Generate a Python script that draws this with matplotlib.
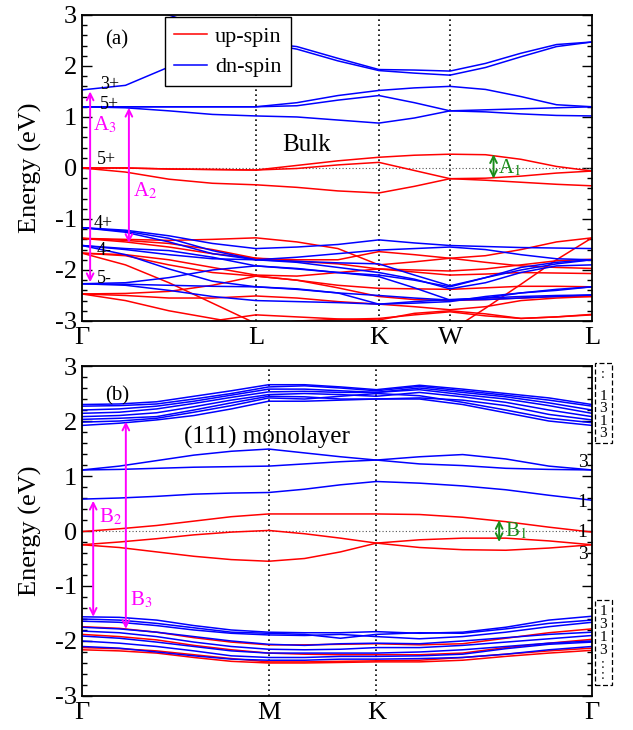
import numpy as np
import matplotlib
matplotlib.use("Agg")
import matplotlib.pyplot as plt
from matplotlib.ticker import MultipleLocator, FormatStrFormatter
from matplotlib.patches import Rectangle

plt.rcParams['font.family'] = ['Liberation Serif', 'DejaVu Serif']
plt.rcParams['mathtext.fontset'] = 'stix'
plt.rcParams['axes.unicode_minus'] = False

UP = '#ff0000'
DN = '#0000ff'
MAG = '#ff00ff'
GRN = '#1a8c1a'

# ---------------- bulk: Gamma-L-K-W-L ----------------
bulk_labels = ['Γ', 'L', 'K', 'W', 'L']
bulk_seglen = [0.866, 0.612, 0.354, 0.707]
bulk_steps = [[0, .25, .5, .75, 1], [1/3, 2/3, 1], [.5, 1], [.25, .5, .75, 1]]

bulk_up = [
    [0.00, 0.00, -0.02, -0.03, -0.04, 0.05, 0.14, 0.21, 0.25, 0.27, 0.26, 0.17, 0.03, -0.06],
    [0.00, 0.00, -0.02, -0.03, -0.04, -0.01, 0.06, 0.11, -0.05, -0.21, -0.20, -0.16, -0.10, -0.06],
    [0.00, -0.08, -0.22, -0.30, -0.33, -0.38, -0.45, -0.49, -0.36, -0.21, -0.24, -0.28, -0.32, -0.35],
    [-1.38, -1.40, -1.42, -1.40, -1.37, -1.45, -1.58, -1.90, -1.84, -1.77, -1.72, -1.60, -1.45, -1.37],
    [-1.38, -1.42, -1.48, -1.60, -1.77, -1.80, -1.80, -1.64, -1.70, -1.77, -1.85, -1.92, -1.95, -1.97],
    [-1.38, -1.45, -1.55, -1.68, -1.77, -1.83, -1.88, -1.98, -2.00, -2.02, -1.98, -1.90, -1.82, -1.79],
    [-1.67, -1.90, -2.25, -2.65, -3.05, -3.30, -3.30, -3.30, -3.25, -3.20, -2.75, -2.28, -1.80, -1.37],
    [-1.67, -1.70, -1.80, -1.95, -2.10, -2.12, -2.05, -1.98, -2.04, -2.10, -2.08, -2.05, -2.06, -2.07],
    [-1.67, -1.72, -1.90, -2.05, -2.12, -2.20, -2.30, -2.36, -2.37, -2.38, -2.35, -2.32, -2.32, -2.33],
    [-2.47, -2.46, -2.42, -2.30, -2.12, -2.20, -2.35, -2.52, -2.58, -2.60, -2.58, -2.55, -2.52, -2.52],
    [-2.47, -2.50, -2.55, -2.55, -2.51, -2.55, -2.62, -2.67, -2.72, -2.78, -2.72, -2.60, -2.55, -2.52],
    [-2.47, -2.60, -2.80, -2.95, -3.10, -3.00, -2.97, -2.95, -2.88, -2.82, -2.90, -2.95, -2.92, -2.88],
    [-3.50, -3.40, -3.20, -3.00, -2.88, -2.92, -2.96, -2.98, -2.85, -2.80, -2.86, -2.95, -2.92, -2.87],
]

bulk_dn = [
    [1.53, 1.62, 1.98, 2.30, 2.47, 2.33, 2.10, 1.91, 1.86, 1.82, 1.97, 2.18, 2.38, 2.47],
    [3.60, 3.30, 3.00, 2.70, 2.47, 2.38, 2.15, 1.93, 1.92, 1.90, 2.05, 2.25, 2.42, 2.47],
    [1.20, 1.18, 1.12, 1.05, 1.02, 1.00, 0.94, 0.88, 0.98, 1.12, 1.10, 1.06, 1.03, 1.02],
    [1.20, 1.20, 1.20, 1.20, 1.20, 1.22, 1.33, 1.42, 1.28, 1.12, 1.14, 1.16, 1.18, 1.20],
    [1.20, 1.20, 1.20, 1.20, 1.20, 1.28, 1.42, 1.52, 1.57, 1.60, 1.54, 1.40, 1.24, 1.20],
    [-1.17, -1.22, -1.33, -1.48, -1.58, -1.55, -1.50, -1.41, -1.47, -1.52, -1.54, -1.56, -1.57, -1.58],
    [-1.17, -1.24, -1.38, -1.62, -1.80, -1.75, -1.68, -1.61, -1.58, -1.55, -1.60, -1.70, -1.78, -1.80],
    [-1.17, -1.26, -1.45, -1.68, -1.80, -1.83, -1.86, -1.88, -2.10, -2.31, -2.15, -2.00, -1.88, -1.80],
    [-1.52, -1.60, -1.70, -1.78, -1.80, -1.85, -1.95, -2.05, -2.18, -2.37, -2.25, -2.05, -1.92, -1.90],
    [-1.52, -1.70, -1.98, -2.22, -2.33, -2.37, -2.45, -2.67, -2.65, -2.62, -2.52, -2.45, -2.40, -2.33],
    [-1.52, -1.58, -1.62, -1.75, -1.92, -1.98, -2.05, -2.13, -2.35, -2.59, -2.55, -2.45, -2.38, -2.33],
    [-2.27, -2.25, -2.15, -2.00, -1.92, -1.97, -2.05, -2.10, -2.20, -2.33, -2.15, -1.95, -1.85, -1.80],
    [-2.27, -2.28, -2.30, -2.32, -2.33, -2.38, -2.45, -2.50, -2.55, -2.59, -2.58, -2.55, -2.52, -2.49],
    [-2.27, -2.30, -2.40, -2.52, -2.60, -2.62, -2.64, -2.67, -2.62, -2.58, -2.55, -2.52, -2.50, -2.49],
]

# irreps at Gamma for the bulk panel: (text, k fraction, energy)
bulk_irreps = [('3+', 0.035, 1.63), ('5+', 0.035, 1.24), ('5+', 0.029, 0.16),
               ('4+', 0.022, -1.08), ('4-', 0.029, -1.61), ('5-', 0.029, -2.16)]

# ---------------- (111) monolayer: Gamma-M-K-Gamma ----------------
mono_labels = ['Γ', 'M', 'K', 'Γ']
mono_seglen = [0.866, 0.5, 1.0]
mono_steps = [[0, .2, .4, .6, .8, 1], [1/3, 2/3, 1], [.2, .4, .6, .8, 1]]

mono_up = [
    [-0.01, 0.04, 0.10, 0.18, 0.26, 0.31, 0.31, 0.31, 0.31, 0.30, 0.25, 0.17, 0.07, -0.02],
    [-0.25, -0.20, -0.14, -0.07, -0.02, 0.01, -0.05, -0.13, -0.22, -0.30, -0.34, -0.35, -0.31, -0.25],
    [-0.25, -0.30, -0.38, -0.46, -0.52, -0.55, -0.50, -0.38, -0.22, -0.16, -0.13, -0.13, -0.18, -0.25],
    [-1.74, -1.77, -1.84, -1.94, -2.02, -2.07, -2.07, -2.06, -2.05, -2.07, -2.05, -1.95, -1.85, -1.78],
    [-1.88, -1.92, -1.98, -2.08, -2.16, -2.22, -2.24, -2.25, -2.25, -2.25, -2.22, -2.12, -2.04, -1.97],
    [-2.12, -2.14, -2.18, -2.25, -2.32, -2.38, -2.38, -2.37, -2.36, -2.35, -2.30, -2.24, -2.18, -2.13],
    [-2.16, -2.18, -2.22, -2.30, -2.37, -2.40, -2.40, -2.39, -2.38, -2.38, -2.35, -2.28, -2.22, -2.17],
]

mono_dn = [
    [2.30, 2.31, 2.35, 2.45, 2.55, 2.66, 2.66, 2.62, 2.57, 2.65, 2.58, 2.50, 2.42, 2.30],
    [2.27, 2.28, 2.31, 2.40, 2.50, 2.62, 2.64, 2.60, 2.55, 2.63, 2.55, 2.47, 2.38, 2.27],
    [2.20, 2.22, 2.27, 2.36, 2.47, 2.58, 2.58, 2.55, 2.52, 2.60, 2.52, 2.44, 2.33, 2.20],
    [2.14, 2.16, 2.22, 2.32, 2.43, 2.53, 2.54, 2.52, 2.52, 2.57, 2.48, 2.40, 2.28, 2.14],
    [2.08, 2.10, 2.15, 2.26, 2.38, 2.48, 2.50, 2.48, 2.45, 2.52, 2.44, 2.34, 2.20, 2.08],
    [2.03, 2.05, 2.08, 2.20, 2.33, 2.45, 2.44, 2.40, 2.40, 2.42, 2.38, 2.28, 2.12, 2.02],
    [1.98, 2.00, 2.05, 2.16, 2.28, 2.42, 2.40, 2.45, 2.50, 2.46, 2.34, 2.20, 2.05, 1.97],
    [1.92, 1.96, 2.02, 2.10, 2.22, 2.36, 2.36, 2.38, 2.40, 2.40, 2.30, 2.15, 2.00, 1.92],
    [1.11, 1.18, 1.28, 1.38, 1.45, 1.49, 1.42, 1.35, 1.29, 1.35, 1.39, 1.31, 1.18, 1.11],
    [1.11, 1.12, 1.14, 1.16, 1.17, 1.18, 1.22, 1.26, 1.29, 1.22, 1.19, 1.14, 1.12, 1.11],
    [0.58, 0.60, 0.63, 0.67, 0.69, 0.70, 0.76, 0.84, 0.90, 0.87, 0.82, 0.75, 0.65, 0.56],
    [-1.56, -1.57, -1.62, -1.72, -1.80, -1.84, -1.85, -1.85, -1.83, -1.86, -1.84, -1.75, -1.62, -1.55],
    [-1.60, -1.62, -1.68, -1.76, -1.84, -1.86, -1.88, -1.95, -1.88, -1.85, -1.86, -1.78, -1.68, -1.62],
    [-1.64, -1.66, -1.72, -1.80, -1.86, -1.89, -1.90, -1.88, -1.92, -1.96, -1.92, -1.84, -1.74, -1.66],
    [-1.75, -1.78, -1.84, -1.92, -2.00, -2.06, -2.08, -2.05, -2.04, -2.05, -2.00, -1.94, -1.88, -1.84],
    [-1.82, -1.85, -1.92, -2.02, -2.10, -2.15, -2.16, -2.15, -2.12, -2.12, -2.08, -2.02, -1.96, -1.90],
    [-1.91, -1.95, -2.02, -2.10, -2.18, -2.22, -2.22, -2.22, -2.22, -2.20, -2.16, -2.10, -2.04, -2.00],
    [-2.00, -2.04, -2.10, -2.18, -2.27, -2.30, -2.30, -2.28, -2.28, -2.27, -2.24, -2.14, -2.06, -2.02],
    [-2.10, -2.13, -2.20, -2.27, -2.33, -2.35, -2.35, -2.33, -2.33, -2.32, -2.30, -2.24, -2.16, -2.10],
]

# irreps at the Gamma end of the monolayer path
mono_irreps = [('3', 1.25), ('1', 0.52), ('1', -0.02), ('3', -0.42)]

# transition gaps marked with arrows: (k-position fraction of path, E_top, E_bottom)
bulk_gaps = {'A$_3$': (0.016, 1.50, -2.24), 'A$_2$': (0.092, 1.18, -1.47), 'A$_1$': (0.807, 0.27, -0.21)}
mono_gaps = {'B$_2$': (0.022, 0.55, -1.56), 'B$_3$': (0.086, 1.99, -1.78), 'B$_1$': (0.818, 0.20, -0.20)}


def kpath(seglen, steps):
    nodes = np.concatenate([[0], np.cumsum(seglen)])
    k = []
    for i, fr in enumerate(steps):
        k += [nodes[i] + f * seglen[i] for f in fr]
    return nodes, np.array(k)


def setup(ax, nodes, labels):
    ax.set_xlim(nodes[0], nodes[-1])
    ax.set_ylim(-3, 3)
    for x in nodes[1:-1]:
        ax.axvline(x, color='k', ls=(0, (1, 2)), lw=1.2)
    ax.axhline(0, color='#555555', ls=(0, (1, 2)), lw=0.8)
    ax.set_xticks(nodes)
    ax.set_xticklabels(labels, fontsize=19)
    ax.tick_params(axis='x', length=0, pad=4)
    ax.yaxis.set_major_locator(MultipleLocator(1))
    ax.yaxis.set_minor_locator(MultipleLocator(0.2))
    ax.yaxis.set_major_formatter(FormatStrFormatter('%d'))
    ax.tick_params(axis='y', which='both', direction='in', right=True, labelsize=19)
    ax.tick_params(axis='y', which='major', length=7, width=1)
    ax.tick_params(axis='y', which='minor', length=3.5, width=1)
    ax.set_ylabel('Energy (eV)', fontsize=19, labelpad=9)
    for s in ax.spines.values():
        s.set_linewidth(1.3)


def gap_arrow(ax, x, e1, e2, color, lw=1.4):
    ax.annotate('', xy=(x, e2), xytext=(x, e1),
                arrowprops=dict(arrowstyle='<->', color=color, lw=lw,
                                mutation_scale=12, shrinkA=0, shrinkB=0))


fig = plt.figure(figsize=(6.33, 7.30), dpi=100)
ax1 = fig.add_axes([0.1295, 0.5603, 0.8057, 0.4192])
ax2 = fig.add_axes([0.1295, 0.0466, 0.8057, 0.4520])

# bulk panel
nodes, k = kpath(bulk_seglen, bulk_steps)
setup(ax1, nodes, bulk_labels)
for i, band in enumerate(bulk_up):
    ax1.plot(k, band, color=UP, lw=1.1, label='up-spin' if i == 0 else None)
for i, band in enumerate(bulk_dn):
    ax1.plot(k, band, color=DN, lw=1.1, label='dn-spin' if i == 0 else None)
L = nodes[-1]
for name, (f, e1, e2) in bulk_gaps.items():
    c = GRN if name.startswith('A$_1') else MAG
    gap_arrow(ax1, f * L, e1, e2, c)
ax1.text(0.022 * L, 0.85, 'A$_3$', color=MAG, fontsize=15, va='center')
ax1.text(0.100 * L, -0.45, 'A$_2$', color=MAG, fontsize=15, va='center')
ax1.text(0.816 * L, 0.0, 'A$_1$', color=GRN, fontsize=15, va='center')
ax1.text(0.045, 0.905, '(a)', transform=ax1.transAxes, fontsize=15)
ax1.text(0.392, 0.575, 'Bulk', fontsize=18, va='center', transform=ax1.transAxes)
for txt, f, y in bulk_irreps:
    ax1.text(f * L, y, txt, fontsize=13, va='center')
leg = ax1.legend(loc='upper left', bbox_to_anchor=(0.163, 0.992), fontsize=16,
                 frameon=True, fancybox=False, framealpha=1, edgecolor='k',
                 handlelength=1.5, handletextpad=0.35, borderpad=0.4, labelspacing=0.45,
                 borderaxespad=0)
leg.get_frame().set_linewidth(1.0)

# monolayer panel
nodes, k = kpath(mono_seglen, mono_steps)
setup(ax2, nodes, mono_labels)
for band in mono_up:
    ax2.plot(k, band, color=UP, lw=1.1)
for band in mono_dn:
    ax2.plot(k, band, color=DN, lw=1.1)
L = nodes[-1]
for name, (f, e1, e2) in mono_gaps.items():
    c = GRN if name.startswith('B$_1') else MAG
    gap_arrow(ax2, f * L, e1, e2, c)
ax2.text(0.034 * L, 0.25, 'B$_2$', color=MAG, fontsize=15, va='center')
ax2.text(0.094 * L, -1.25, 'B$_3$', color=MAG, fontsize=15, va='center')
ax2.text(0.830 * L, 0.0, 'B$_1$', color=GRN, fontsize=15, va='center')
ax2.text(0.045, 0.895, '(b)', transform=ax2.transAxes, fontsize=15)
ax2.text(0.20, 0.785, '(111) monolayer', transform=ax2.transAxes, fontsize=18, va='center')
for txt, y in mono_irreps:
    ax2.text(0.972, y, txt, transform=ax2.get_yaxis_transform(), fontsize=14, va='center')

# small irreps lists beside the monolayer panel
for y0, y1, items, dots_top in [(3.05, 1.60, ['1', '3', '1', '3'], True),
                                (-1.25, -2.80, ['1', '3', '1', '3'], False)]:
    x0 = 1.006
    tr = ax2.get_yaxis_transform()
    ax2.add_patch(Rectangle((x0, y1), 0.033, y0 - y1, transform=tr,
                            fill=False, ls=(0, (4, 2)), lw=0.9, clip_on=False))
    if dots_top:
        ys = np.linspace(2.45, 1.77, 4)
        ax2.text(x0 + 0.016, 2.84, ':', transform=tr, ha='center', va='center', fontsize=10)
    else:
        ys = np.linspace(-1.47, -2.17, 4)
        ax2.text(x0 + 0.016, -2.52, ':\n:', transform=tr, ha='center', va='center',
                 fontsize=10, linespacing=0.8)
    for t, y in zip(items, ys):
        ax2.text(x0 + 0.016, y, t, transform=tr, ha='center', va='center', fontsize=11)

fig.savefig('out.png', dpi=100)
